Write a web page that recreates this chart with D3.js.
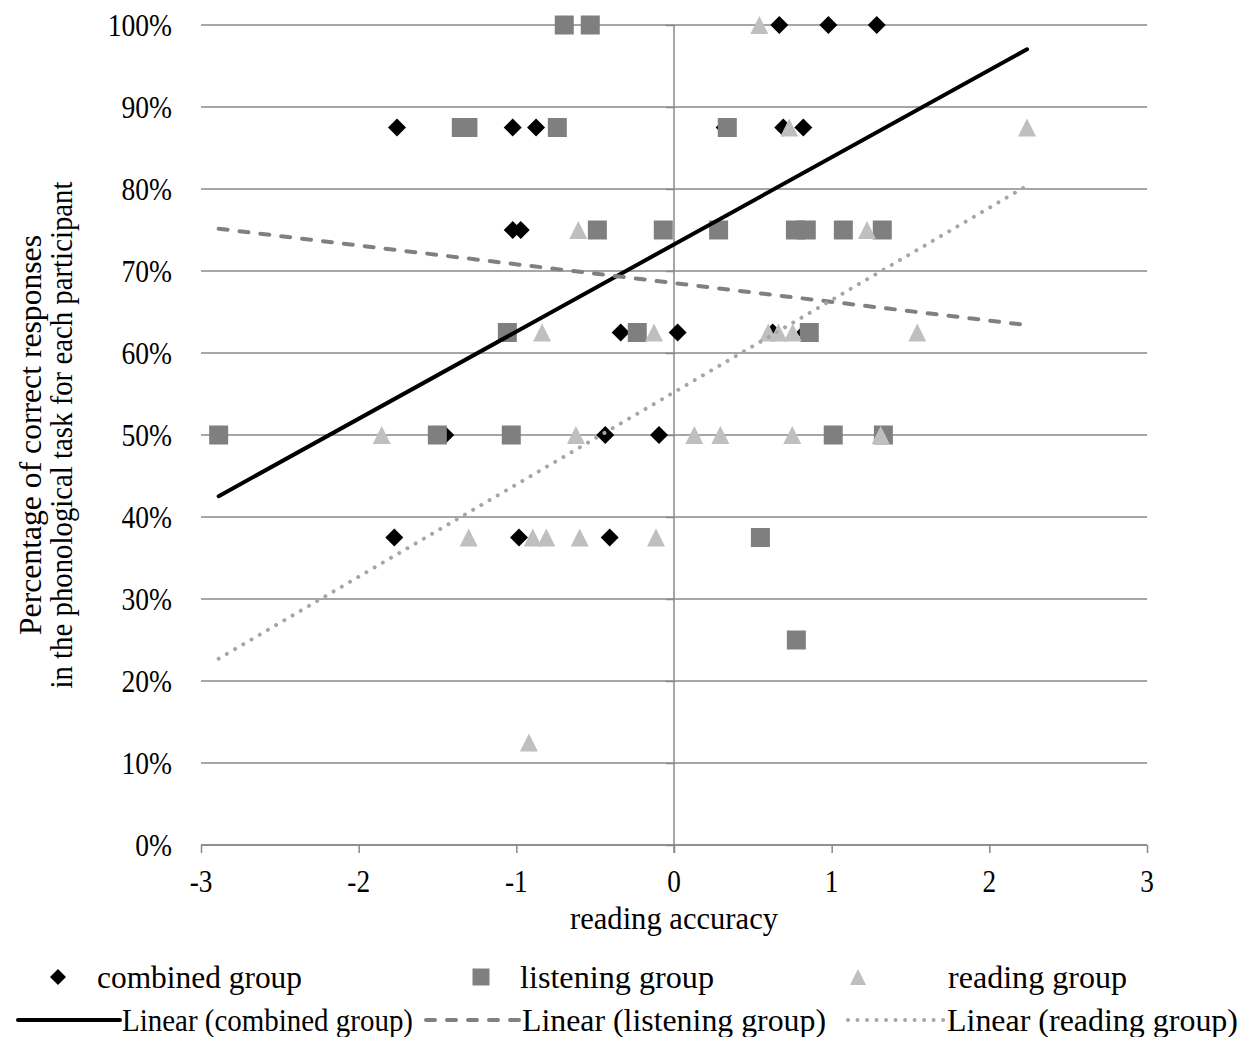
<!DOCTYPE html>
<html>
<head>
<meta charset="utf-8">
<script src="https://cdn.jsdelivr.net/npm/d3@7"></script>
<style>
  html, body { margin: 0; padding: 0; background: #fff; }
  svg { display: block; }
  text { font-family: "Liberation Serif", "Times New Roman", serif; fill: #000; }
</style>
</head>
<body>
<svg id="chart" width="1257" height="1037"></svg>
<script>
// reading accuracy (x) and share of correct responses (y) per participant
const combinedX = [0.668, 0.979, 1.286, -1.757, -1.023, -0.875, 0.321, 0.693, 0.820, -1.023, -0.972,
                   -0.338, 0.023, 0.626, 0.830, -1.451, -0.436, -0.095, -1.774, -0.983, -0.408];
const combinedY = [1, 1, 1, 0.875, 0.875, 0.875, 0.875, 0.875, 0.875, 0.75, 0.75,
                   0.625, 0.625, 0.625, 0.625, 0.5, 0.5, 0.5, 0.375, 0.375, 0.375];

const listeningX = [-0.696, -0.531, -1.349, -1.307, -0.740, 0.338, -0.486, -0.068, 0.283, 0.770, 0.839, 1.074,
                    1.321, -1.057, -0.233, 0.858, -2.888, -1.501, -1.032, 1.010, 1.328, 0.548, 0.776];
const listeningY = [1, 1, 0.875, 0.875, 0.875, 0.875, 0.75, 0.75, 0.75, 0.75, 0.75, 0.75,
                    0.75, 0.625, 0.625, 0.625, 0.5, 0.5, 0.5, 0.5, 0.5, 0.375, 0.25];

const readingX = [0.541, 0.731, 2.239, -0.607, 1.224, -0.837, -0.127, 0.598, 0.662, 0.753, 1.543, -1.854,
                  -0.622, 0.129, 0.294, 0.750, 1.311, -1.302, -0.896, -0.810, -0.598, -0.114, -0.920];
const readingY = [1, 0.875, 0.875, 0.75, 0.75, 0.625, 0.625, 0.625, 0.625, 0.625, 0.625, 0.5,
                  0.5, 0.5, 0.5, 0.5, 0.5, 0.375, 0.375, 0.375, 0.375, 0.375, 0.125];

// linear trend lines: slope, intercept, and the x span they cover
const seriesNames = ["combined group", "listening group", "reading group"];
const trendSlope = [0.1063, -0.02292, 0.1125];
const trendIntercept = [0.7324, 0.6853, 0.5521];
const trendSpan = [-2.888, 2.239];

// axis ticks
const xTicks = [-3, -2, -1, 0, 1, 2, 3];
const yTicks = [0, 0.1, 0.2, 0.3, 0.4, 0.5, 0.6, 0.7, 0.8, 0.9, 1.0];

const svg = d3.select("#chart");
svg.append("rect").attr("width", 1257).attr("height", 1037).attr("fill", "#fff");

const plotLeft = 201, plotRight = 1147, plotTop = 25, plotBottom = 845;
const x = d3.scaleLinear().domain([-3, 3]).range([plotLeft, plotRight]);
const y = d3.scaleLinear().domain([0, 1]).range([plotBottom, plotTop]);

const gridColor = "#898989";
const fontSize = 31;

// squeeze or stretch a text run horizontally to a given width
function fitWidth(sel, widthFn) {
  sel.each(function (d, i) {
    const natural = this.getComputedTextLength();
    const w = widthFn(natural, d, i);
    d3.select(this).attr("textLength", w).attr("lengthAdjust", "spacingAndGlyphs");
  });
}

// horizontal gridlines
svg.append("g").selectAll("line").data(yTicks).join("line")
  .attr("x1", plotLeft).attr("x2", plotRight)
  .attr("y1", d => y(d)).attr("y2", d => y(d))
  .attr("stroke", gridColor).attr("stroke-width", 1.5);

// vertical axis crossing at x = 0, with ticks
const yAxis = d3.axisLeft(y).tickValues(yTicks).tickSize(8).tickFormat("");
const gy = svg.append("g").attr("transform", `translate(${x(0)},0)`).call(yAxis);
gy.select(".domain").attr("stroke", gridColor).attr("stroke-width", 1.5)
  .attr("d", `M0,${plotTop}V${plotBottom + 8}`);
gy.selectAll(".tick line").attr("stroke", gridColor).attr("stroke-width", 1.5);

// y tick labels at the left edge
const yLabels = svg.append("g").selectAll("text").data(yTicks).join("text")
  .attr("x", 172).attr("y", d => y(d))
  .attr("text-anchor", "end").attr("dominant-baseline", "central")
  .attr("font-size", fontSize)
  .text(d => d3.format(".0%")(d));
fitWidth(yLabels, n => n * 0.89);

// bottom axis
const xAxis = d3.axisBottom(x).tickValues(xTicks).tickSize(8).tickFormat("");
const gx = svg.append("g").attr("transform", `translate(0,${plotBottom})`).call(xAxis);
gx.select(".domain").attr("stroke", gridColor).attr("stroke-width", 1.5)
  .attr("d", `M${plotLeft},0H${plotRight}`);
gx.selectAll(".tick line").attr("stroke", gridColor).attr("stroke-width", 1.5);

const xLabels = svg.append("g").selectAll("text").data(xTicks).join("text")
  .attr("x", d => x(d)).attr("y", 892)
  .attr("text-anchor", "middle").attr("font-size", fontSize)
  .text(d => d);
fitWidth(xLabels, n => n * 0.88);

const xTitle = svg.append("text").attr("x", (plotLeft + plotRight) / 2).attr("y", 929)
  .attr("text-anchor", "middle").attr("font-size", fontSize)
  .text("reading accuracy");
fitWidth(xTitle, () => 208);

// y axis title, two lines
const yTitleLines = ["Percentage of correct responses", "in the phonological task for each participant"];
const yTitleBase = [41, 72];
const yTitleWidth = [400, 507];
const yTitle = svg.append("g").selectAll("text").data(yTitleLines).join("text")
  .attr("transform", (d, i) => `translate(${yTitleBase[i]},${(plotTop + plotBottom) / 2}) rotate(-90)`)
  .attr("text-anchor", "middle").attr("font-size", fontSize)
  .text(d => d);
fitWidth(yTitle, (n, d, i) => yTitleWidth[i]);

// marker shapes
const diamondType = { draw(ctx, s) { const r = s / 2; ctx.moveTo(0, -r); ctx.lineTo(r, 0); ctx.lineTo(0, r); ctx.lineTo(-r, 0); ctx.closePath(); } };
const squareType = { draw(ctx, s) { const r = s / 2; ctx.rect(-r, -r, s, s); } };
const triangleType = { draw(ctx, s) { const r = s / 2; ctx.moveTo(0, -r); ctx.lineTo(r, r); ctx.lineTo(-r, r); ctx.closePath(); } };

const series = [
  { xs: combinedX, ys: combinedY, type: diamondType, size: 18, fill: "#000000" },
  { xs: listeningX, ys: listeningY, type: squareType, size: 19, fill: "#7f7f7f" },
  { xs: readingX, ys: readingY, type: triangleType, size: 18, fill: "#bfbfbf" }
];

series.forEach(s => {
  const pts = s.xs.map((v, i) => [v, s.ys[i]]);
  svg.append("g").selectAll("path").data(pts).join("path")
    .attr("d", d3.symbol().type(s.type).size(s.size))
    .attr("transform", d => `translate(${x(d[0])},${y(d[1])})`)
    .attr("fill", s.fill);
});

// trend line styles
const trendStyles = [
  { stroke: "#000000", width: 4, dash: null },
  { stroke: "#808080", width: 4, dash: "9 12" },
  { stroke: "#a6a6a6", width: 4, dash: "0.01 9.5" }
];

const line = d3.line().x(d => x(d[0])).y(d => y(d[1]));
trendStyles.forEach((st, i) => {
  const pts = trendSpan.map(v => [v, trendIntercept[i] + trendSlope[i] * v]);
  svg.append("path").attr("d", line(pts))
    .attr("fill", "none").attr("stroke", st.stroke).attr("stroke-width", st.width)
    .attr("stroke-linecap", "round")
    .attr("stroke-dasharray", st.dash);
});

// legend
const legendMarkers = [58, 481, 858];
const legendText1 = [97, 520, 948];
const legendWidth1 = [205, 194, 179];
const legendLines = [[18, 120], [426, 520], [848, 945]];
const legendText2 = [122, 522, 947];
const legendWidth2 = [291, 304, 291];
const row1 = 977, row2 = 1020;

series.forEach((s, i) => {
  svg.append("path").attr("d", d3.symbol().type(s.type).size(i === 1 ? 17 : 16)())
    .attr("transform", `translate(${legendMarkers[i]},${row1})`).attr("fill", s.fill);
  const t1 = svg.append("text").attr("x", legendText1[i]).attr("y", row1).attr("dominant-baseline", "central")
    .attr("font-size", fontSize).text(seriesNames[i]);
  fitWidth(t1, () => legendWidth1[i]);

  const st = trendStyles[i];
  svg.append("line").attr("x1", legendLines[i][0]).attr("x2", legendLines[i][1])
    .attr("y1", row2).attr("y2", row2)
    .attr("stroke", st.stroke).attr("stroke-width", st.width).attr("stroke-linecap", "round")
    .attr("stroke-dasharray", st.dash);
  const t2 = svg.append("text").attr("x", legendText2[i]).attr("y", row2).attr("dominant-baseline", "central")
    .attr("font-size", fontSize).text(`Linear (${seriesNames[i]})`);
  fitWidth(t2, () => legendWidth2[i]);
});
</script>
</body>
</html>
